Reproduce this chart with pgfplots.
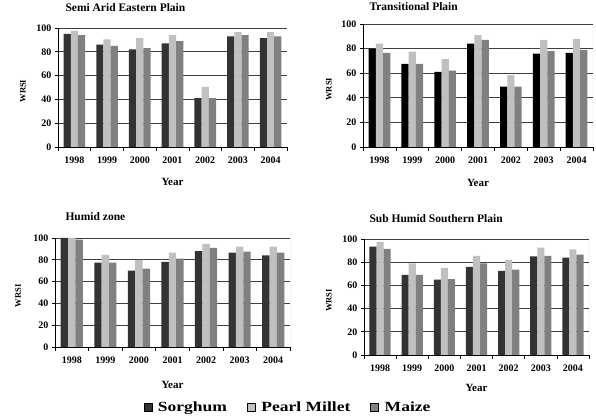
\documentclass[border=0pt]{standalone}
\usepackage{fontspec}
\setmainfont{Liberation Serif}
\usepackage{graphicx}
\usepackage{pgfplots}
\pgfplotsset{compat=1.18}

\definecolor{sor}{HTML}{333333}
\definecolor{pm}{HTML}{C0C0C0}
\definecolor{mz}{HTML}{808080}

\pgfplotsset{
 panel/.style={
  scale only axis, anchor=south west,
  ybar=0pt, bar width=0.22,
  xmin=-0.5, xmax=6.5, ymin=0, ymax=100,
  xtick={0,...,6}, xticklabels={1998,1999,2000,2001,2002,2003,2004},
  minor xtick={-0.5,0.5,...,6.5},
  ytick={0,20,...,100},
  axis x line=bottom, axis y line=left,
  axis line style={-, black, line width=0.8pt},
  ymajorgrids, grid style={black!75, line width=0.7pt},
  major x tick style={draw=none},
  tick align=outside, major tick length=3pt, minor tick length=4pt,
  tick style={black, line width=0.6pt},
  /pgf/number format/assume math mode=true,
  tick label style={font=\bfseries\fontsize{10}{12}\selectfont},
  xticklabel style={yshift=-3pt},
  xlabel={Year}, ylabel={WRSI},
  xlabel style={font=\bfseries\fontsize{11}{12}\selectfont},
  ylabel style={font=\bfseries\fontsize{8.5}{10}\selectfont, anchor=center},
  title style={font=\bfseries\fontsize{11.5}{13}\selectfont, at={(axis description cs:0,1)}, anchor=west},
  every axis plot/.append style={draw=none},
 },
}

\begin{document}
\begin{tikzpicture}
\path[use as bounding box] (0pt,0pt) rectangle (596pt,419pt);

% Semi Arid Eastern Plain
\begin{axis}[panel, at={(58pt,272pt)}, width=229pt, height=119pt,
  title={Semi Arid Eastern Plain}, title style={xshift=4pt, yshift=14pt},
  ylabel style={at={(axis description cs:-0.153,0.47)}},
  xlabel style={at={(axis description cs:0.5,0)}, anchor=center, yshift=-35pt}]
\addplot[fill=sor] coordinates {(0,95) (1,86) (2,82) (3,87) (4,41) (5,93) (6,91.5)};
\addplot[fill=pm] coordinates {(0,97.5) (1,90.5) (2,91.5) (3,94) (4,50.5) (5,96.5) (6,96.5)};
\addplot[fill=mz] coordinates {(0,94) (1,85) (2,83) (3,89) (4,41) (5,94) (6,93)};
\draw[black!35, line width=0.8pt] (rel axis cs:1,0) -- (rel axis cs:1,1);
\end{axis}

% Transitional Plain
\begin{axis}[panel, at={(363pt,272pt)}, width=230pt, height=123pt,
  title={Transitional Plain}, title style={xshift=3pt, yshift=11pt},
  ylabel style={at={(axis description cs:-0.148,0.47)}},
  xlabel style={at={(axis description cs:0.5,0)}, anchor=center, yshift=-36pt}]
\addplot[fill=black] coordinates {(0,80) (1,67.5) (2,61) (3,84) (4,49) (5,76) (6,76.5)};
\addplot[fill=pm] coordinates {(0,84) (1,77.5) (2,71.5) (3,91) (4,58.5) (5,87) (6,88)};
\addplot[fill=mz] coordinates {(0,76.5) (1,67.5) (2,62) (3,87) (4,49) (5,78) (6,79)};
\draw[black!35, line width=0.8pt] (rel axis cs:1,0) -- (rel axis cs:1,1);
\end{axis}

% Humid zone
\begin{axis}[panel, at={(55pt,72pt)}, width=235pt, height=109pt,
  title={Humid zone}, title style={xshift=7pt, yshift=15pt},
  ylabel style={at={(axis description cs:-0.157,0.47)}},
  xlabel style={at={(axis description cs:0.5,0)}, anchor=center, yshift=-38pt}]
\addplot[fill=sor] coordinates {(0,100) (1,77.5) (2,70) (3,78) (4,88) (5,86.5) (6,84)};
\addplot[fill=pm] coordinates {(0,100) (1,84.5) (2,80) (3,86.5) (4,94.5) (5,92) (6,92)};
\addplot[fill=mz] coordinates {(0,98.5) (1,77.5) (2,72) (3,81) (4,91) (5,87.5) (6,86.5)};
\draw[black!35, line width=0.8pt] (rel axis cs:1,0) -- (rel axis cs:1,1);
\end{axis}

% Sub Humid Southern Plain
\begin{axis}[panel, at={(364pt,64pt)}, width=225pt, height=116pt,
  title={Sub Humid Southern Plain}, title style={xshift=2pt, yshift=14pt},
  ylabel style={at={(axis description cs:-0.156,0.47)}},
  xlabel style={at={(axis description cs:0.5,0)}, anchor=center, yshift=-33pt}]
\addplot[fill=sor] coordinates {(0,93.5) (1,69) (2,65) (3,76) (4,72.5) (5,85) (6,84)};
\addplot[fill=pm] coordinates {(0,97.5) (1,79) (2,75) (3,85.5) (4,82) (5,92.5) (6,91)};
\addplot[fill=mz] coordinates {(0,91.5) (1,69) (2,65.5) (3,79) (4,73.5) (5,85.5) (6,86.5)};
\draw[black!35, line width=0.8pt] (rel axis cs:1,0) -- (rel axis cs:1,1);
\end{axis}

% Legend
\begin{axis}[at={(288pt,12pt)}, anchor=center, hide axis, scale only axis,
  width=10pt, height=10pt, xmin=0, xmax=1, ymin=0, ymax=1,
  legend image code/.code={\fill[#1] (0pt,-4pt) rectangle (8pt,4pt);},
  legend style={at={(0.5,0.5)}, anchor=center, draw=none, fill=white,
    legend columns=3, font=\bfseries\fontsize{14}{16}\selectfont,
    inner ysep=3pt,
    /tikz/every odd column/.append style={column sep=4pt},
    /tikz/every even column/.append style={column sep=18pt}}]
\addlegendimage{fill=sor}
\addlegendentry{\scalebox{1.25}[1]{Sorghum}}
\addlegendimage{fill=pm}
\addlegendentry{\scalebox{1.25}[1]{Pearl Millet}}
\addlegendimage{fill=mz}
\addlegendentry{\scalebox{1.25}[1]{Maize}}
\end{axis}
\end{tikzpicture}
\end{document}
